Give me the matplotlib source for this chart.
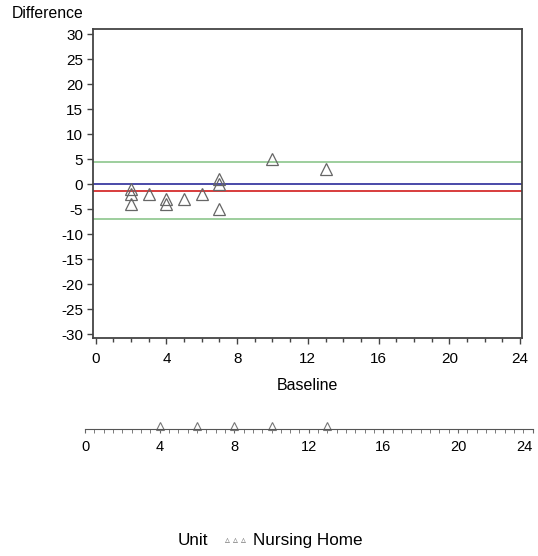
import matplotlib.pyplot as plt
from matplotlib.ticker import MultipleLocator

plt.rcParams['font.family'] = ['Liberation Sans', 'DejaVu Sans']
plt.rcParams['axes.unicode_minus'] = False

# Bland-Altman style data: baseline vs difference (Nursing Home)
baseline = [2, 2, 2, 3, 4, 4, 5, 6, 7, 7, 7, 10, 13]
difference = [-1, -2, -4, -2, -3, -4, -3, -2, 1, 0, -5, 5, 3]

mean_diff = -1.25
upper_loa = 4.5
lower_loa = -7.0
zero_line = 0

# strip of baseline values below the main plot
strip_values = [4, 6, 8, 10, 13]

fig = plt.figure(figsize=(5.38, 5.56), dpi=100)

ax = fig.add_axes([0.1723, 0.3926, 0.7985, 0.5547])
ax.axhline(upper_loa, color='#8cc68c', lw=1.2)
ax.axhline(lower_loa, color='#8cc68c', lw=1.2)
ax.axhline(zero_line, color='#4a4aa8', lw=1.4)
ax.axhline(mean_diff, color='#d83c3c', lw=1.4)
ax.plot(baseline, difference, linestyle='none', marker='^', markersize=9,
        markerfacecolor='none', markeredgecolor='#666666', markeredgewidth=0.9)
ax.set_xlim(-0.17, 24.13)
ax.set_ylim(-30.7, 31)
ax.xaxis.set_major_locator(MultipleLocator(4))
ax.xaxis.set_minor_locator(MultipleLocator(1))
ax.yaxis.set_major_locator(MultipleLocator(5))
ax.tick_params(which='both', direction='out', labelsize=11, color='#444444')
ax.tick_params(which='major', length=4, width=1, pad=3)
ax.tick_params(axis='x', which='major', pad=6)
ax.tick_params(which='minor', length=3, width=1)
for s in ax.spines.values():
    s.set_color('#444444')
    s.set_linewidth(1.3)
ax.set_xlabel('Baseline', fontsize=11.5, labelpad=9)
fig.text(0.022, 0.975, 'Difference', fontsize=11.3, ha='left', va='center')

# strip axis
ax2 = fig.add_axes([0.158, 0.2284, 0.832, 0.05])
ax2.plot(strip_values, [0.1] * len(strip_values), linestyle='none', marker='^',
         markersize=6, markerfacecolor='none', markeredgecolor='#777777',
         markeredgewidth=0.8, clip_on=False)
ax2.set_xlim(0, 24)
ax2.set_ylim(0, 1)
for side in ['top', 'left', 'right']:
    ax2.spines[side].set_visible(False)
ax2.spines['bottom'].set_color('#555555')
ax2.set_yticks([])
ax2.xaxis.set_major_locator(MultipleLocator(4))
ax2.xaxis.set_minor_locator(MultipleLocator(0.5))
ax2.tick_params(which='both', direction='out', length=3, color='#666666')
ax2.tick_params(labelsize=10.5, pad=5)
labels = ax2.get_xticklabels()
for lab in labels:
    lab.set_family(['Liberation Sans Narrow', 'Liberation Sans'])
fig.canvas.draw()
for lab in ax2.get_xticklabels():
    if lab.get_text() == '24':
        lab.set_horizontalalignment('right')
ax2.patch.set_visible(False)

# legend
fig.text(0.331, 0.027, 'Unit', fontsize=12.3, va='center', ha='left')
fig.text(0.418, 0.029, '\u25b5 \u25b5 \u25b5', fontsize=7, color='#777777',
         va='center', ha='left', family=['DejaVu Sans'])
fig.text(0.470, 0.027, 'Nursing Home', fontsize=12.3, va='center', ha='left')

fig.savefig('out.png', dpi=100)
